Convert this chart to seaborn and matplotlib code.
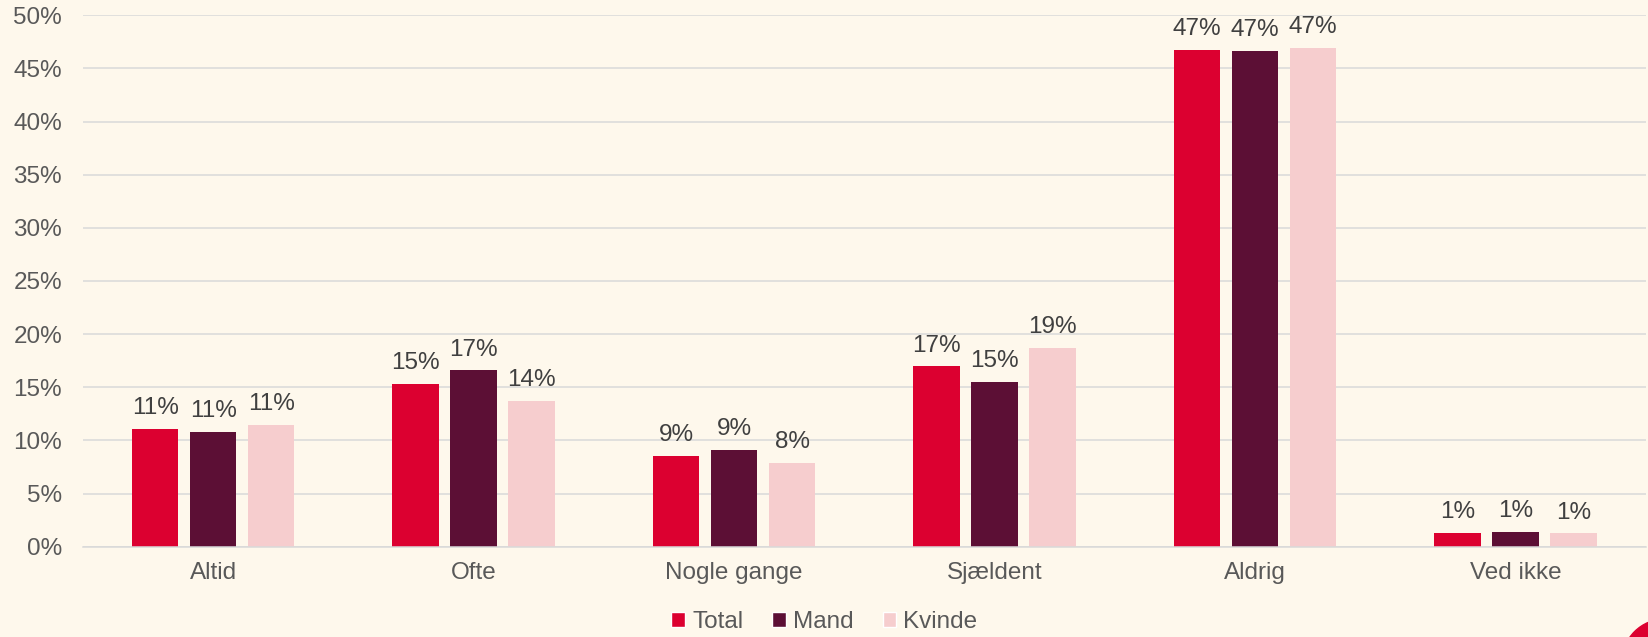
import matplotlib
matplotlib.use('Agg')
import matplotlib.pyplot as plt
from matplotlib.patches import Circle, Patch
from matplotlib.ticker import PercentFormatter
import seaborn as sns
import pandas as pd

# -------------------------------------DATA------------------------------------------
categories = ['Altid', 'Ofte', 'Nogle gange', 'Sjældent', 'Aldrig', 'Ved ikke']
groups = ['Total', 'Mand', 'Kvinde']
total = [0.1107, 0.1533, 0.0853, 0.1697, 0.4675, 0.0132]
mand = [0.1079, 0.1659, 0.0913, 0.1549, 0.4663, 0.0138]
kvinde = [0.1148, 0.1374, 0.0787, 0.1869, 0.4694, 0.0126]

colors = ['#DC0030', '#5C0F35', '#F6CDCE']
bg = '#FEF8EC'
text_col = '#595959'
grid_col = '#D9D9D9'
fs = 17.5

df = pd.DataFrame({
    'kategori': categories * 3,
    'gruppe': [g for g in groups for _ in categories],
    'andel': total + mand + kvinde,
})

# -------------------------------------PLOT------------------------------------------
sns.set_style('white')
plt.rcParams['font.family'] = ['Liberation Sans', 'DejaVu Sans']

fig = plt.figure(figsize=(16.49, 6.37), dpi=100, facecolor=bg)
ax = fig.add_axes([0.0503, 0.1418, 0.9477, 0.8342])
ax.set_facecolor(bg)

sns.barplot(data=df, x='kategori', y='andel', hue='gruppe', order=categories,
            hue_order=groups, palette=colors, width=0.668, gap=0.2,
            saturation=1, linewidth=0, legend=False, ax=ax)

for cont in ax.containers:
    vals = [b.get_height() for b in cont]
    ax.bar_label(cont, labels=[f'{v:.0%}' for v in vals], padding=7,
                 fontsize=fs, color='#404040')

ax.set_ylim(0, 0.5)
ax.set_xlim(-0.5, 5.5)
ax.set_yticks([i * 0.05 for i in range(11)])
ax.yaxis.set_major_formatter(PercentFormatter(1, decimals=0))
ax.grid(axis='y', color=grid_col, linewidth=1.1)
ax.set_axisbelow(True)
for s in ['top', 'right', 'left']:
    ax.spines[s].set_visible(False)
ax.spines['bottom'].set_color(grid_col)
ax.spines['bottom'].set_linewidth(1.1)
ax.tick_params(axis='both', length=0, labelsize=fs, labelcolor=text_col)
ax.tick_params(axis='y', pad=15)
ax.tick_params(axis='x', pad=11)
ax.set_xlabel('')
ax.set_ylabel('')

handles = [Patch(facecolor=c, label=g) for c, g in zip(colors, groups)]
fig.legend(handles=handles, loc='lower center', bbox_to_anchor=(0.5, -0.028),
           ncol=3, frameon=False, fontsize=fs, labelcolor=text_col,
           handlelength=0.55, handleheight=0.55, handletextpad=0.3,
           columnspacing=1.2)

# small red corner decoration
fig.patches.append(Circle((1665, -25), 43, transform=None, color='#DC0030'))

fig.savefig('out.png', dpi=100, facecolor=bg)
